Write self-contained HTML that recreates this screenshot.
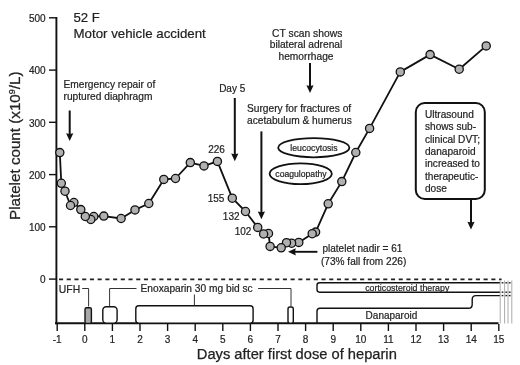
<!DOCTYPE html><html><head><meta charset="utf-8"><style>html,body{margin:0;padding:0;background:#fff;}svg{display:block;will-change:transform;}</style></head><body>
<svg width="520" height="365" viewBox="0 0 520 365">
<rect width="520" height="365" fill="#fff"/>
<g stroke="#111" fill="none">
<line x1="56.4" y1="17" x2="56.4" y2="324.3" stroke-width="1.9"/>
<line x1="55" y1="323.3" x2="498.5" y2="323.3" stroke-width="2"/>
<line x1="49" y1="279.1" x2="56" y2="279.1" stroke-width="1.4"/>
<line x1="49" y1="226.8" x2="56" y2="226.8" stroke-width="1.4"/>
<line x1="49" y1="174.6" x2="56" y2="174.6" stroke-width="1.4"/>
<line x1="49" y1="122.3" x2="56" y2="122.3" stroke-width="1.4"/>
<line x1="49" y1="70.1" x2="56" y2="70.1" stroke-width="1.4"/>
<line x1="49" y1="17.8" x2="56" y2="17.8" stroke-width="1.4"/>
<line x1="57.2" y1="324" x2="57.2" y2="331" stroke-width="1.4"/>
<line x1="84.8" y1="324" x2="84.8" y2="331" stroke-width="1.4"/>
<line x1="112.4" y1="324" x2="112.4" y2="331" stroke-width="1.4"/>
<line x1="140.0" y1="324" x2="140.0" y2="331" stroke-width="1.4"/>
<line x1="167.6" y1="324" x2="167.6" y2="331" stroke-width="1.4"/>
<line x1="195.2" y1="324" x2="195.2" y2="331" stroke-width="1.4"/>
<line x1="222.8" y1="324" x2="222.8" y2="331" stroke-width="1.4"/>
<line x1="250.4" y1="324" x2="250.4" y2="331" stroke-width="1.4"/>
<line x1="278.0" y1="324" x2="278.0" y2="331" stroke-width="1.4"/>
<line x1="305.6" y1="324" x2="305.6" y2="331" stroke-width="1.4"/>
<line x1="333.2" y1="324" x2="333.2" y2="331" stroke-width="1.4"/>
<line x1="360.8" y1="324" x2="360.8" y2="331" stroke-width="1.4"/>
<line x1="388.4" y1="324" x2="388.4" y2="331" stroke-width="1.4"/>
<line x1="416.0" y1="324" x2="416.0" y2="331" stroke-width="1.4"/>
<line x1="443.6" y1="324" x2="443.6" y2="331" stroke-width="1.4"/>
<line x1="471.2" y1="324" x2="471.2" y2="331" stroke-width="1.4"/>
<line x1="498.8" y1="324" x2="498.8" y2="331" stroke-width="1.4"/>
</g>
<g font-family="Liberation Sans, sans-serif" font-size="10" fill="#222" stroke="#222" stroke-width="0.2">
<text x="45.6" y="283.4" text-anchor="end">0</text>
<text x="45.6" y="231.1" text-anchor="end">100</text>
<text x="45.6" y="178.9" text-anchor="end">200</text>
<text x="45.6" y="126.6" text-anchor="end">300</text>
<text x="45.6" y="74.4" text-anchor="end">400</text>
<text x="45.6" y="22.1" text-anchor="end">500</text>
<text x="57.2" y="342.9" text-anchor="middle">-1</text>
<text x="84.8" y="342.9" text-anchor="middle">0</text>
<text x="112.4" y="342.9" text-anchor="middle">1</text>
<text x="140.0" y="342.9" text-anchor="middle">2</text>
<text x="167.6" y="342.9" text-anchor="middle">3</text>
<text x="195.2" y="342.9" text-anchor="middle">4</text>
<text x="222.8" y="342.9" text-anchor="middle">5</text>
<text x="250.4" y="342.9" text-anchor="middle">6</text>
<text x="278.0" y="342.9" text-anchor="middle">7</text>
<text x="305.6" y="342.9" text-anchor="middle">8</text>
<text x="333.2" y="342.9" text-anchor="middle">9</text>
<text x="360.8" y="342.9" text-anchor="middle">10</text>
<text x="388.4" y="342.9" text-anchor="middle">11</text>
<text x="416.0" y="342.9" text-anchor="middle">12</text>
<text x="443.6" y="342.9" text-anchor="middle">13</text>
<text x="471.2" y="342.9" text-anchor="middle">14</text>
<text x="498.8" y="342.9" text-anchor="middle">15</text>
</g>
<text font-family="Liberation Sans, sans-serif" font-size="14.7" fill="#222" stroke="#222" stroke-width="0.25" x="196.8" y="358.8">Days after first dose of heparin</text>
<text font-family="Liberation Sans, sans-serif" font-size="15.2" fill="#222" stroke="#222" stroke-width="0.25" transform="translate(20.2,220) rotate(-90)">Platelet count (x10<tspan font-size="9" dy="-5">9</tspan><tspan dy="5">/L)</tspan></text>
<line x1="59" y1="279.3" x2="501.6" y2="279.3" stroke="#222" stroke-width="1.7" stroke-dasharray="4.1 3.62"/>
<polyline points="59.8,152.6 61.3,183.3 65.0,191.2 70.5,205.5 73.9,202.5 80.8,209.6 85.3,216.5 90.8,219.5 93.8,216.5 103.8,216.1 121.1,218.5 135.0,209.9 148.8,203.5 163.8,179.4 175.5,178.5 190.3,162.6 204.0,165.9 217.4,161.4 232.3,198.2 245.5,211.5 257.7,227.4 263.6,234.0 268.5,233.5 270.1,246.4 281.2,247.8 286.5,242.7 291.6,243.2 298.8,242.4 312.2,233.7 315.6,232.1 328.2,203.8 341.8,181.6 355.8,152.5 369.6,128.4 400.3,71.9 430.1,54.6 459.2,69.2 486.2,45.9" fill="none" stroke="#111" stroke-width="1.8" stroke-linejoin="round"/>
<circle cx="486.2" cy="45.9" r="4.1" fill="#b0b0b0" stroke="#111" stroke-width="1.3"/>
<circle cx="459.2" cy="69.2" r="4.1" fill="#b0b0b0" stroke="#111" stroke-width="1.3"/>
<circle cx="430.1" cy="54.6" r="4.1" fill="#b0b0b0" stroke="#111" stroke-width="1.3"/>
<circle cx="400.3" cy="71.9" r="4.1" fill="#b0b0b0" stroke="#111" stroke-width="1.3"/>
<circle cx="369.6" cy="128.4" r="4.1" fill="#b0b0b0" stroke="#111" stroke-width="1.3"/>
<circle cx="355.8" cy="152.5" r="4.1" fill="#b0b0b0" stroke="#111" stroke-width="1.3"/>
<circle cx="341.8" cy="181.6" r="4.1" fill="#b0b0b0" stroke="#111" stroke-width="1.3"/>
<circle cx="328.2" cy="203.8" r="4.1" fill="#b0b0b0" stroke="#111" stroke-width="1.3"/>
<circle cx="315.6" cy="232.1" r="4.1" fill="#b0b0b0" stroke="#111" stroke-width="1.3"/>
<circle cx="312.2" cy="233.7" r="4.1" fill="#b0b0b0" stroke="#111" stroke-width="1.3"/>
<circle cx="298.8" cy="242.4" r="4.1" fill="#b0b0b0" stroke="#111" stroke-width="1.3"/>
<circle cx="291.6" cy="243.2" r="4.1" fill="#b0b0b0" stroke="#111" stroke-width="1.3"/>
<circle cx="286.5" cy="242.7" r="4.1" fill="#b0b0b0" stroke="#111" stroke-width="1.3"/>
<circle cx="281.2" cy="247.8" r="4.1" fill="#b0b0b0" stroke="#111" stroke-width="1.3"/>
<circle cx="270.1" cy="246.4" r="4.1" fill="#b0b0b0" stroke="#111" stroke-width="1.3"/>
<circle cx="268.5" cy="233.5" r="4.1" fill="#b0b0b0" stroke="#111" stroke-width="1.3"/>
<circle cx="263.6" cy="234.0" r="4.1" fill="#b0b0b0" stroke="#111" stroke-width="1.3"/>
<circle cx="257.7" cy="227.4" r="4.1" fill="#b0b0b0" stroke="#111" stroke-width="1.3"/>
<circle cx="245.5" cy="211.5" r="4.1" fill="#b0b0b0" stroke="#111" stroke-width="1.3"/>
<circle cx="232.3" cy="198.2" r="4.1" fill="#b0b0b0" stroke="#111" stroke-width="1.3"/>
<circle cx="217.4" cy="161.4" r="4.1" fill="#b0b0b0" stroke="#111" stroke-width="1.3"/>
<circle cx="204.0" cy="165.9" r="4.1" fill="#b0b0b0" stroke="#111" stroke-width="1.3"/>
<circle cx="190.3" cy="162.6" r="4.1" fill="#b0b0b0" stroke="#111" stroke-width="1.3"/>
<circle cx="175.5" cy="178.5" r="4.1" fill="#b0b0b0" stroke="#111" stroke-width="1.3"/>
<circle cx="163.8" cy="179.4" r="4.1" fill="#b0b0b0" stroke="#111" stroke-width="1.3"/>
<circle cx="148.8" cy="203.5" r="4.1" fill="#b0b0b0" stroke="#111" stroke-width="1.3"/>
<circle cx="135.0" cy="209.9" r="4.1" fill="#b0b0b0" stroke="#111" stroke-width="1.3"/>
<circle cx="121.1" cy="218.5" r="4.1" fill="#b0b0b0" stroke="#111" stroke-width="1.3"/>
<circle cx="103.8" cy="216.1" r="4.1" fill="#b0b0b0" stroke="#111" stroke-width="1.3"/>
<circle cx="93.8" cy="216.5" r="4.1" fill="#b0b0b0" stroke="#111" stroke-width="1.3"/>
<circle cx="90.8" cy="219.5" r="4.1" fill="#b0b0b0" stroke="#111" stroke-width="1.3"/>
<circle cx="85.3" cy="216.5" r="4.1" fill="#b0b0b0" stroke="#111" stroke-width="1.3"/>
<circle cx="80.8" cy="209.6" r="4.1" fill="#b0b0b0" stroke="#111" stroke-width="1.3"/>
<circle cx="73.9" cy="202.5" r="4.1" fill="#b0b0b0" stroke="#111" stroke-width="1.3"/>
<circle cx="70.5" cy="205.5" r="4.1" fill="#b0b0b0" stroke="#111" stroke-width="1.3"/>
<circle cx="65.0" cy="191.2" r="4.1" fill="#b0b0b0" stroke="#111" stroke-width="1.3"/>
<circle cx="61.3" cy="183.3" r="4.1" fill="#b0b0b0" stroke="#111" stroke-width="1.3"/>
<circle cx="59.8" cy="152.6" r="4.1" fill="#b0b0b0" stroke="#111" stroke-width="1.3"/>
<g font-family="Liberation Sans, sans-serif" fill="#222" stroke="#222" stroke-width="0.2">
<text x="73.5" y="22" font-size="13.2">52 F</text>
<text x="73.5" y="38.2" font-size="13.3">Motor vehicle accident</text>
<text x="63.5" y="88" font-size="10.2">Emergency repair of</text>
<text x="63.5" y="99.5" font-size="10.2">ruptured diaphragm</text>
<text x="307.2" y="36.8" font-size="10.3" text-anchor="middle">CT scan shows</text>
<text x="306" y="48.3" font-size="10.2" text-anchor="middle">bilateral adrenal</text>
<text x="306" y="59.6" font-size="10.2" text-anchor="middle">hemorrhage</text>
<text x="232.2" y="91.5" font-size="10" text-anchor="middle">Day 5</text>
<text x="247" y="112" font-size="10.2">Surgery for fractures of</text>
<text x="247" y="124" font-size="10.2">acetabulum &amp; humerus</text>
<text x="216.6" y="152.8" font-size="10" text-anchor="middle">226</text>
<text x="216.1" y="201.7" font-size="10" text-anchor="middle">155</text>
<text x="231.2" y="219.9" font-size="10" text-anchor="middle">132</text>
<text x="243" y="234.7" font-size="10" text-anchor="middle">102</text>
<text x="322.5" y="252" font-size="10">platelet nadir = 61</text>
<text x="321" y="265.2" font-size="10.1">(73% fall from 226)</text>
<text x="314" y="151.3" font-size="8.7" text-anchor="middle">leucocytosis</text>
<text x="301" y="176.9" font-size="8.65" text-anchor="middle">coagulopathy</text>
<text x="425" y="118.0" font-size="10.1">Ultrasound</text>
<text x="425" y="130.3" font-size="10.1">shows sub-</text>
<text x="425" y="142.6" font-size="10.1">clinical DVT;</text>
<text x="425" y="154.9" font-size="10.1">danaparoid</text>
<text x="425" y="167.2" font-size="10.1">increased to</text>
<text x="425" y="179.5" font-size="10.1">therapeutic-</text>
<text x="425" y="191.8" font-size="10.1">dose</text>
<text x="58.8" y="292.6" font-size="10.4">UFH</text>
<text x="140.5" y="292.4" font-size="10.2">Enoxaparin 30 mg bid sc</text>
<text x="365.2" y="290.7" font-size="8.8">corticosteroid therapy</text>
<text x="365.6" y="318.9" font-size="10">Danaparoid</text>
</g>
<ellipse cx="313.8" cy="147.7" rx="35.6" ry="9.6" fill="none" stroke="#111" stroke-width="1.8"/>
<ellipse cx="300.7" cy="173.7" rx="31.1" ry="10.4" fill="none" stroke="#111" stroke-width="1.8"/>
<rect x="415.8" y="103" width="69" height="96" rx="9" fill="none" stroke="#111" stroke-width="2"/>
<line x1="69.7" y1="110.5" x2="69.7" y2="135.2" stroke="#111" stroke-width="2"/>
<path d="M66.10000000000001,133.2 L69.7,134.0 L73.3,133.2 L69.7,141 Z" fill="#111"/>
<line x1="310" y1="63.1" x2="310" y2="87.2" stroke="#111" stroke-width="2"/>
<path d="M306.4,85.2 L310,86.0 L313.6,85.2 L310,93 Z" fill="#111"/>
<line x1="234.8" y1="98" x2="234.8" y2="155.5" stroke="#111" stroke-width="2"/>
<path d="M231.20000000000002,153.5 L234.8,154.3 L238.4,153.5 L234.8,161.3 Z" fill="#111"/>
<line x1="261.4" y1="131.4" x2="261.4" y2="213.39999999999998" stroke="#111" stroke-width="2"/>
<path d="M257.79999999999995,211.39999999999998 L261.4,212.2 L265.0,211.39999999999998 L261.4,219.2 Z" fill="#111"/>
<line x1="471" y1="199.5" x2="471" y2="223.7" stroke="#111" stroke-width="2"/>
<path d="M467.4,221.7 L471,222.5 L474.6,221.7 L471,229.5 Z" fill="#111"/>
<line x1="317.4" y1="251.8" x2="294" y2="251.8" stroke="#111" stroke-width="1.9"/>
<path d="M295.8,248.2 L295,251.8 L295.8,255.4 L288,251.8 Z" fill="#111"/>
<g fill="none" stroke="#333" stroke-width="1">
<polyline points="82.2,288.5 88.6,288.5 88.6,306.5"/>
<polyline points="109.6,306 109.6,288.5 136.5,288.5"/>
<line x1="194.4" y1="305.5" x2="194.4" y2="294.5"/>
<polyline points="258.1,288.5 291,288.5 291,306.5"/>
</g>
<g stroke="#111" stroke-width="1.4">
<rect x="85" y="307.8" width="6.4" height="15.6" rx="1.6" fill="#a8a8a8"/>
<rect x="102.8" y="306.8" width="14.3" height="16.4" rx="3.5" fill="#fff"/>
<rect x="135.8" y="305.8" width="117.3" height="17.4" rx="3" fill="#fff"/>
<rect x="288" y="307" width="5.3" height="16.2" rx="2" fill="#fff"/>
<path d="M500,282.8 H319.6 Q317,282.8 317,285.4 V289.6 Q317,292.2 319.6,292.2 H500" fill="none"/>
<path d="M500,295.6 H476 Q472.2,295.6 472.2,299.4 V304.4 Q472.2,308.2 468.4,308.2 H320 Q317,308.2 317,311.2 V323" fill="none"/>
</g>
<g stroke="#a0a0a0" stroke-width="0.9">
<line x1="500.2" y1="280.5" x2="500.2" y2="323.5"/>
<line x1="504.6" y1="280.5" x2="504.6" y2="323.5"/>
<line x1="508.0" y1="280.5" x2="508.0" y2="323.5"/>
<line x1="511.8" y1="280.5" x2="511.8" y2="323.5"/>
</g>
<g stroke="#222" stroke-width="1.4">
<line x1="501.6" y1="282.8" x2="503.4" y2="282.8"/>
<line x1="505.4" y1="282.8" x2="507.2" y2="282.8"/>
<line x1="508.8" y1="282.8" x2="510.6" y2="282.8"/>
<line x1="501.6" y1="292.2" x2="503.4" y2="292.2"/>
<line x1="505.4" y1="292.2" x2="507.2" y2="292.2"/>
<line x1="508.8" y1="292.2" x2="510.6" y2="292.2"/>
<line x1="501.6" y1="295.6" x2="503.4" y2="295.6"/>
<line x1="505.4" y1="295.6" x2="507.2" y2="295.6"/>
<line x1="508.8" y1="295.6" x2="510.6" y2="295.6"/>
</g>
</svg></body></html>
